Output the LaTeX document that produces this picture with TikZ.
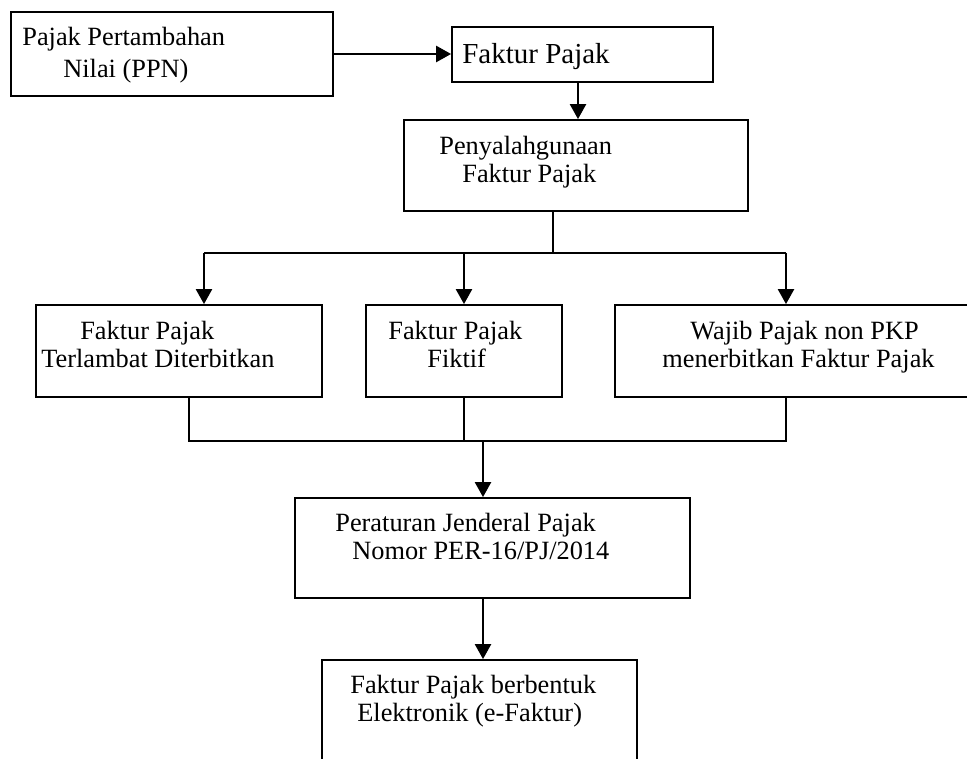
\documentclass[tikz,border=0pt]{standalone}
\usepackage{fontspec}
\setmainfont{Liberation Serif}
\usetikzlibrary{arrows.meta}

\begin{document}
\begin{tikzpicture}[x=0.02cm, y=-0.02cm,
    kotak/.style={draw, line width=1pt, inner sep=0pt},
    teks/.style={anchor=base west, align=left, inner sep=0pt, font=\fontsize{15pt}{16.4pt}\selectfont},
    panah/.style={-{Triangle[length=8.5pt,width=9pt]}, line width=1.5pt},
    garis/.style={line width=1.1pt}
]
\clip (0,0) rectangle (967,759);

% kotak-kotak
\node[kotak, minimum width=6.44cm, minimum height=1.68cm] (ppn) at (172,54) {};
\node[kotak, minimum width=5.22cm, minimum height=1.10cm] (faktur) at (582.5,54.5) {};
\node[kotak, minimum width=6.88cm, minimum height=1.82cm] (salah) at (576,165.5) {};
\node[kotak, minimum width=5.72cm, minimum height=1.84cm] (telat) at (179,351) {};
\node[kotak, minimum width=3.92cm, minimum height=1.84cm] (fiktif) at (464,351) {};
\node[kotak, minimum width=7.40cm, minimum height=1.84cm] (nonpkp) at (800,351) {};
\node[kotak, minimum width=7.90cm, minimum height=2.00cm] (per) at (492.5,548) {};
\node[kotak, minimum width=6.30cm, minimum height=2.60cm] (efak) at (479.5,725) {};

% teks (titik = garis dasar baris terakhir)
\node[teks] (tppn) at (22,78) {Pajak Pertambahan\\[2.3pt]\hspace*{0.82cm}Nilai (PPN)};
\node[teks, font=\fontsize{16.5pt}{18pt}\selectfont] (tfaktur) at (462,64) {Faktur Pajak};
\node[teks] (tsalah) at (439,183) {Penyalahgunaan\\\hspace*{0.46cm}Faktur Pajak};
\node[teks] (ttelat) at (41,368) {\hspace*{0.78cm}Faktur Pajak\\Terlambat Diterbitkan};
\node[teks] (tfiktif) at (388,368) {Faktur Pajak\\\hspace*{0.78cm}Fiktif};
\node[teks] (tnonpkp) at (662,368) {\hspace*{0.56cm}Wajib Pajak non PKP\\menerbitkan Faktur Pajak};
\node[teks] (tper) at (335,560) {Peraturan Jenderal Pajak\\\hspace*{0.34cm}Nomor PER-16/PJ/2014};
\node[teks] (tefak) at (350,722) {Faktur Pajak berbentuk\\\hspace*{0.14cm}Elektronik (e-Faktur)};

% titik cabang
\coordinate (atas) at (553,253);
\coordinate (ka) at (204,253);
\coordinate (kb) at (464,253);
\coordinate (kc) at (786,253);
\coordinate (ba) at (189,441);
\coordinate (bb) at (464,441);
\coordinate (bc) at (786,441);
\coordinate (gab) at (483,441);

% panah
\draw[panah] (ppn.east) -- (ppn.east -| faktur.west);
\draw[panah] ([xshift=-0.09cm]faktur.south) -- ([xshift=-0.09cm]faktur.south |- salah.north);
\draw[garis] (salah.south -| atas) -- (atas);
\draw[garis] (ka) -- (kc);
\draw[panah] (ka) -- (ka |- telat.north);
\draw[panah] (kb) -- (kb |- fiktif.north);
\draw[panah] (kc) -- (kc |- nonpkp.north);
\draw[garis] (telat.south -| ba) -- (ba) -- (bc) -- (nonpkp.south -| bc);
\draw[garis] (fiktif.south) -- (bb);
\draw[panah] (gab) -- (gab |- per.north);
\draw[panah] (per.south -| gab) -- (efak.north -| gab);
\end{tikzpicture}
\end{document}
